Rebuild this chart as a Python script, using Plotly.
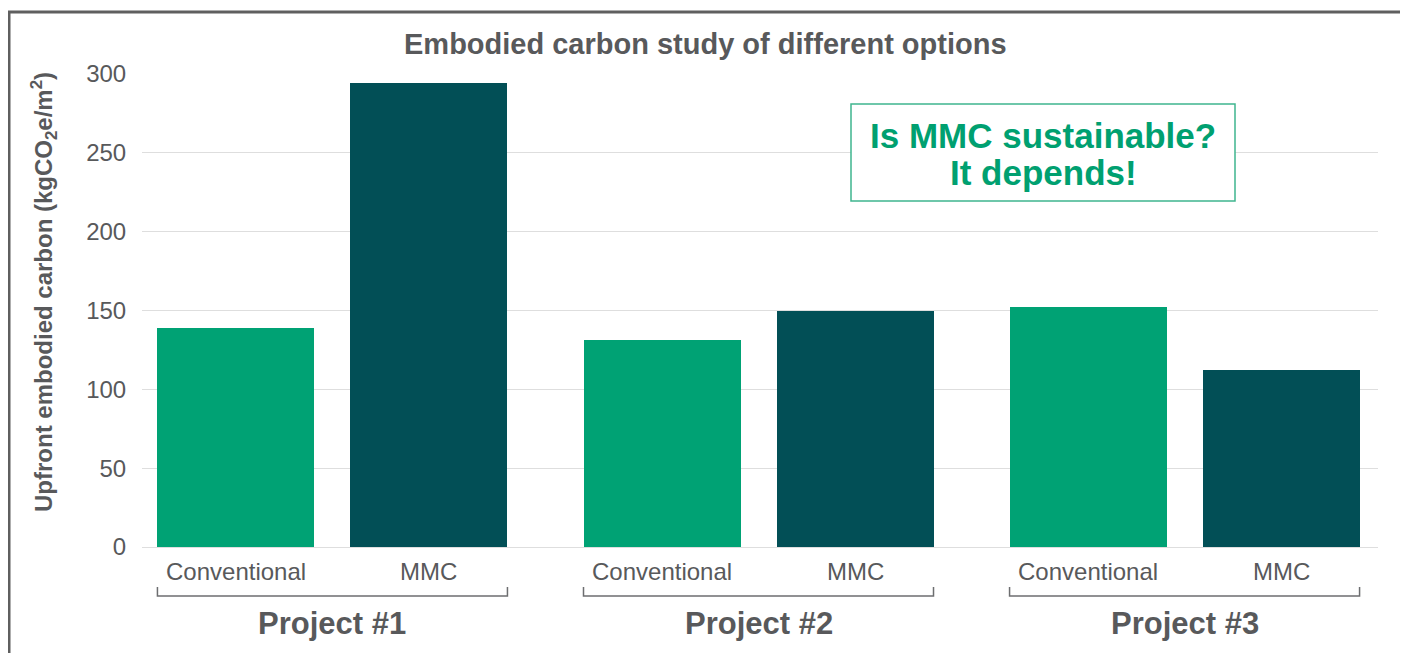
import plotly.graph_objects as go

# ---- data ----
projects = ["Project #1", "Project #2", "Project #3"]
options = ["Conventional", "MMC"]
conventional = [139, 131, 152]
mmc = [294, 150, 112]
y_ticks = [0, 50, 100, 150, 200, 250, 300]

title = "Embodied carbon study of different options"
y_title = "Upfront embodied carbon (kgCO<sub>2</sub>e/m<sup>2</sup>)"
callout_lines = ["Is MMC sustainable?", "It depends!"]

# ---- style ----
GREEN = "#00a274"
TEAL = "#024f56"
GRAY_TXT = "#58595b"
FONT = "Liberation Sans"

OFF = 8  # page body margin
W, H = 1400, 645
L, R, T, B = 134, 30, 66, 106
PW, PH = W - L - R, H - T - B


def px_x(p):
    return (p - OFF - L) / PW


def px_y(p):
    return (H - B - (p - OFF)) / PH


offset = 0.2265
bar_w = 0.3685
groups = list(range(len(projects)))
x_conv = [g - offset for g in groups]
x_mmc = [g + offset for g in groups]

fig = go.Figure()
fig.add_trace(go.Bar(x=x_conv, y=conventional, width=bar_w, marker=dict(color=GREEN, line=dict(width=0)),
                     name=options[0], showlegend=False))
fig.add_trace(go.Bar(x=x_mmc, y=mmc, width=bar_w, marker=dict(color=TEAL, line=dict(width=0)),
                     name=options[1], showlegend=False))

annotations = []
shapes = []
for g in groups:
    for xv, lab in ((x_conv[g], options[0]), (x_mmc[g], options[1])):
        annotations.append(dict(x=xv, y=px_y(571), xref="x", yref="paper", text=lab, showarrow=False,
                                font=dict(family=FONT, size=24, color=GRAY_TXT), xanchor="center", yanchor="middle"))
    annotations.append(dict(x=g, y=px_y(623), xref="x", yref="paper", text="<b>%s</b>" % projects[g],
                            showarrow=False, font=dict(family=FONT, size=31, color=GRAY_TXT),
                            xanchor="center", yanchor="middle"))
    x0 = x_conv[g] - bar_w / 2
    x1 = x_mmc[g] + bar_w / 2
    shapes.append(dict(type="path", xref="x", yref="paper",
                       path="M %f,%f L %f,%f L %f,%f L %f,%f" % (x0, px_y(587), x0, px_y(596), x1, px_y(596), x1, px_y(587)),
                       line=dict(color="#6d6e70", width=1.5)))

# title
annotations.append(dict(x=px_x(705), y=px_y(44), xref="paper", yref="paper", text="<b>%s</b>" % title,
                        showarrow=False, font=dict(family=FONT, size=29, color=GRAY_TXT),
                        xanchor="center", yanchor="middle"))
# y axis title
annotations.append(dict(x=px_x(44), y=px_y(292), xref="paper", yref="paper", text="<b>%s</b>" % y_title,
                        showarrow=False, textangle=-90, font=dict(family=FONT, size=24, color=GRAY_TXT),
                        xanchor="center", yanchor="middle"))
# callout box
shapes.append(dict(type="rect", xref="paper", yref="paper", x0=px_x(851), x1=px_x(1235), y0=px_y(201), y1=px_y(104),
                   line=dict(color="#3fb58f", width=1.5), fillcolor="white", layer="above"))
for line_txt, ly in zip(callout_lines, (135, 172)):
    annotations.append(dict(x=px_x(1043), y=px_y(ly), xref="paper", yref="paper", text="<b>%s</b>" % line_txt,
                            showarrow=False, font=dict(family=FONT, size=35, color="#00a070"),
                            xanchor="center", yanchor="middle"))

# outer frame
shapes.append(dict(type="rect", xref="paper", yref="paper", x0=px_x(9), x1=px_x(1403), y0=px_y(700), y1=px_y(12),
                   line=dict(color="#5f5f5f", width=3), fillcolor="rgba(0,0,0,0)", layer="below"))

fig.update_layout(
    width=W, height=H,
    margin=dict(l=L, r=R, t=T, b=B),
    paper_bgcolor="white", plot_bgcolor="white",
    bargap=0,
    xaxis=dict(range=[-0.447, 2.454], showticklabels=False, showgrid=False, zeroline=False, fixedrange=True),
    yaxis=dict(range=[0, 300], tickvals=y_ticks, showgrid=True, gridcolor="#dedede", gridwidth=1.2,
               zeroline=True, zerolinecolor="#dedede", zerolinewidth=1.2,
               ticks="outside", ticklen=10, tickcolor="rgba(0,0,0,0)",
               tickfont=dict(family=FONT, size=24, color=GRAY_TXT), showline=False),
    annotations=annotations,
    shapes=shapes,
)

fig.write_html("out.html")
